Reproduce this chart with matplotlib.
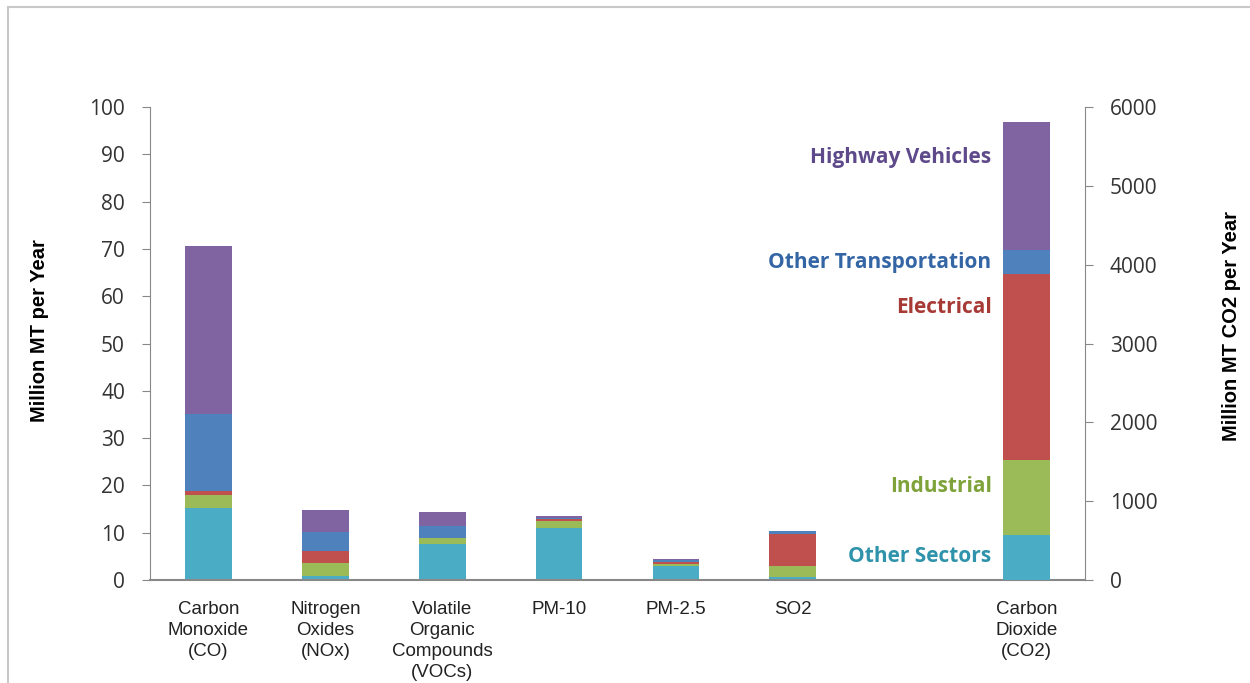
import numpy as np
import matplotlib.pyplot as plt
from matplotlib.patches import Rectangle

# data, left axis in million MT, CO2 on right axis
categories = ['Carbon\nMonoxide\n(CO)', 'Nitrogen\nOxides\n(NOx)', 'Volatile\nOrganic\nCompounds\n(VOCs)',
              'PM-10', 'PM-2.5', 'SO2', '', 'Carbon\nDioxide\n(CO2)']
sectors = ['Other Sectors', 'Industrial', 'Electrical', 'Other Transportation', 'Highway Vehicles']

# values for CO, NOx, VOCs, PM-10, PM-2.5, SO2
other_sectors = [15.2, 0.9, 7.6, 11.1, 3.0, 0.6]
industrial = [2.8, 2.6, 1.2, 1.4, 0.4, 2.4]
electrical = [0.8, 2.65, 0.1, 0.4, 0.5, 6.8]
other_transport = [16.4, 3.9, 2.5, 0.3, 0.25, 0.5]
highway = [35.4, 4.8, 3.0, 0.3, 0.25, 0.05]

# CO2, million MT CO2
co2 = [570, 950, 2360, 305, 1630]

colors = ['#4BACC6', '#9BBB59', '#C0504D', '#4F81BD', '#8064A2']
text_colors = ['#2E93AB', '#7FA33A', '#A83A36', '#3465A4', '#5E4A8A']
label_y = [292, 1180, 3463, 4034, 5366]

fig = plt.figure(figsize=(12.5, 6.83), dpi=100)
ax = fig.add_axes([0.12, 0.1508, 0.748, 0.6925])
ax2 = ax.twinx()

x = np.arange(6)
w = 0.4
bottom = np.zeros(6)
for vals, c in zip([other_sectors, industrial, electrical, other_transport, highway], colors):
    ax.bar(x, vals, w, bottom=bottom, color=c, edgecolor='none')
    bottom += np.array(vals)

b = 0
for v, c in zip(co2, colors):
    ax2.bar(7, v, w, bottom=b, color=c, edgecolor='none')
    b += v

# sector names next to CO2 bar
for name, c, yy in zip(sectors, text_colors, label_y):
    ax2.text(6.7, yy, name, color=c, ha='right', va='center', fontsize=15,
             fontweight='bold', family='Open Sans')

ax.set_xlim(-0.5, 7.5)
ax.set_ylim(0, 100)
ax2.set_ylim(0, 6000)
ax.set_yticks(np.arange(0, 101, 10))
ax2.set_yticks(np.arange(0, 6001, 1000))

ax.set_xticks(np.arange(8))
ax.set_xticklabels(categories, fontsize=13.5, family='Liberation Sans',
                   color='#222222', linespacing=1.3)
ax.tick_params(axis='x', length=0, pad=15)

for a in (ax, ax2):
    a.spines['top'].set_visible(False)
    a.tick_params(axis='y', direction='out', length=6, color='#888888', labelsize=15,
                  labelcolor='#333333', pad=12)
    for lab in a.get_yticklabels():
        lab.set_family('Open Sans')
ax2.spines['left'].set_visible(False)
ax.spines['right'].set_visible(False)
ax2.spines['bottom'].set_visible(False)
ax.spines['left'].set_color('#888888')
ax2.spines['right'].set_color('#888888')
ax.spines['bottom'].set_color('#888888')
ax.spines['bottom'].set_linewidth(1.5)

ax.set_ylabel('Million MT per Year', fontsize=14.5, fontweight='bold', family='Liberation Sans')
ax2.set_ylabel('Million MT CO2 per Year', fontsize=14.5, fontweight='bold', family='Liberation Sans')
ax.yaxis.set_label_coords(-0.108, 0.528)
ax2.yaxis.set_label_coords(1.146, 0.537)

# light frame around the slide
fig.patches.append(Rectangle((0.006, -0.01), 1.1, 0.9998, transform=fig.transFigure,
                             fill=False, edgecolor='#C8C8C8', linewidth=1.5))

fig.savefig('out.png', dpi=100)
